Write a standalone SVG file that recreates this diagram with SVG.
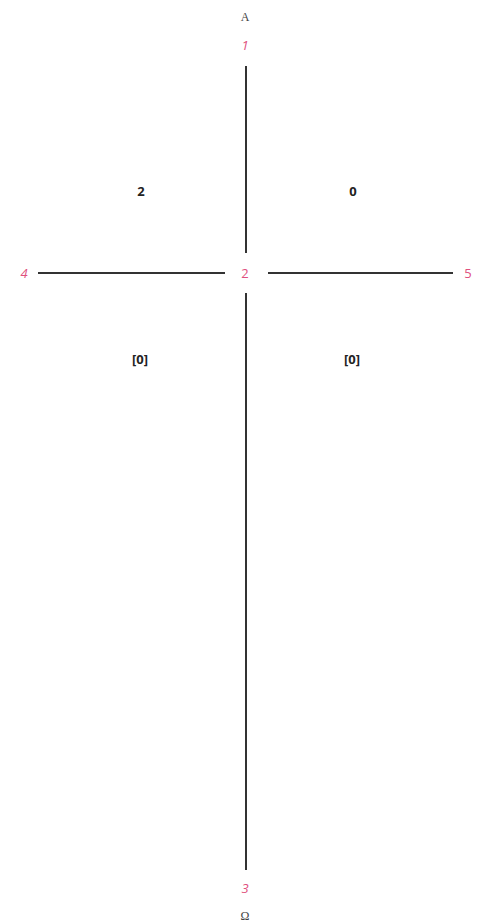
<svg xmlns="http://www.w3.org/2000/svg" width="483" height="923" viewBox="0 0 483 923">
<style>
.ln{stroke:#333;stroke-width:2;fill:none}
.pt{font-family:"Open Sans","Liberation Sans",sans-serif;font-size:13px;fill:#e0507e;text-anchor:middle;font-style:italic}
.gr{font-family:"Liberation Serif",serif;font-size:12px;fill:#444;text-anchor:middle}
.val{font-family:"Open Sans","Liberation Sans",sans-serif;font-size:13px;font-weight:bold;fill:#222;text-anchor:middle}
</style>
<rect width="483" height="923" fill="#fff"/>
<g id="connectors">
<line class="ln" x1="246" y1="66" x2="246" y2="253"/>
<line class="ln" x1="246" y1="293" x2="246" y2="870"/>
<line class="ln" x1="38" y1="273" x2="225" y2="273"/>
<line class="ln" x1="268" y1="273" x2="453" y2="273"/>
</g>
<g id="node-1"><text class="gr" x="245" y="21">A</text><text class="pt" x="245" y="50">1</text></g>
<g id="node-2"><text class="pt" x="245" y="278" style="font-style:normal">2</text></g>
<g id="node-3"><text class="pt" x="245" y="893">3</text><text class="gr" x="245" y="920">Ω</text></g>
<g id="node-4"><text class="pt" x="24" y="278">4</text></g>
<g id="node-5"><text class="pt" x="468" y="278" style="font-style:normal">5</text></g>
<g id="values">
<text class="val" x="141" y="196">2</text>
<text class="val" x="353" y="196">0</text>
<text class="val" x="140" y="364">[0]</text>
<text class="val" x="352" y="364">[0]</text>
</g>
</svg>
